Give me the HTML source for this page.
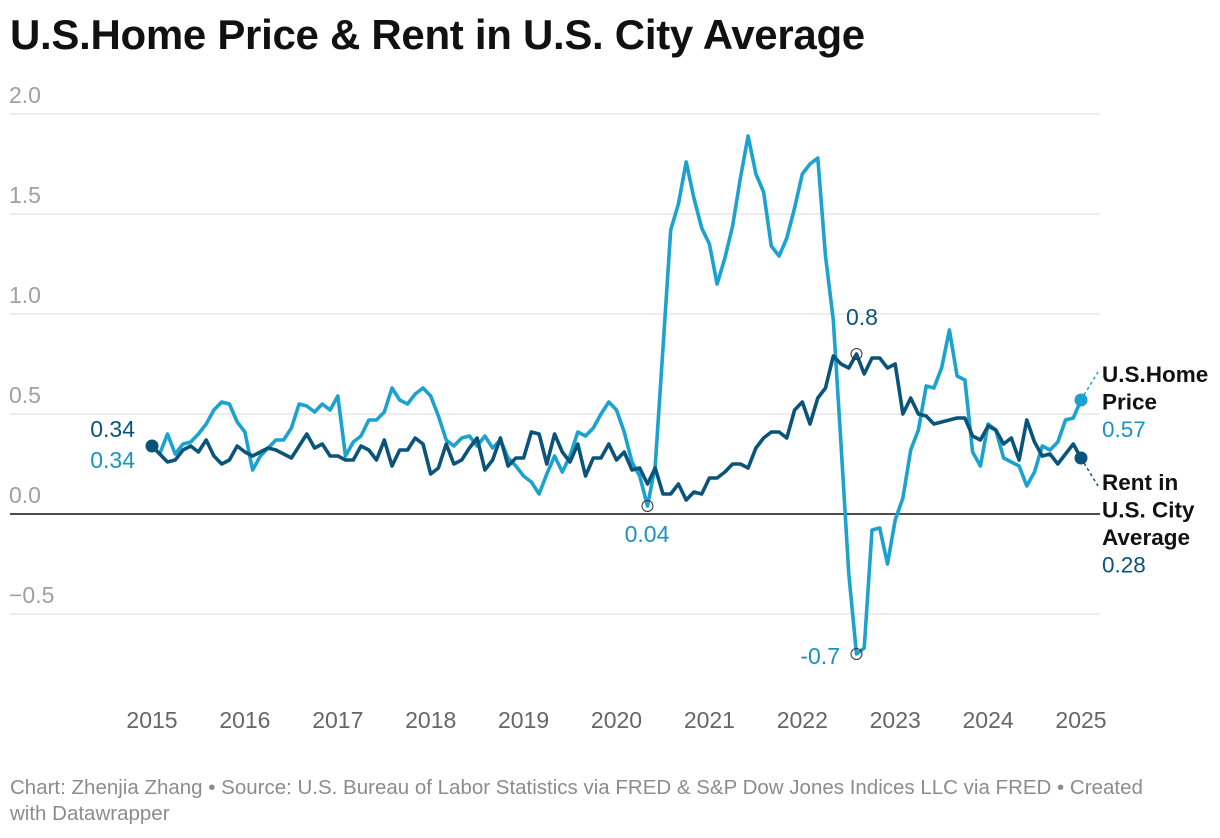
<!DOCTYPE html>
<html><head><meta charset="utf-8"><style>
body{margin:0;background:#fff;font-family:"Liberation Sans",sans-serif;}
#wrap{position:relative;width:1220px;height:838px;overflow:hidden}
h1{position:absolute;left:10px;top:11px;margin:0;font-size:42px;font-weight:bold;color:#111;letter-spacing:-0.3px}
.foot{position:absolute;left:10px;top:775px;font-size:20.5px;color:#8c8c8c;line-height:26px;width:1160px}
svg{position:absolute;left:0;top:0}
</style></head><body>
<div id="wrap">
<h1>U.S.Home Price &amp; Rent in U.S. City Average</h1>
<svg id="chart" width="1220" height="838"></svg>
<div class="foot">Chart: Zhenjia Zhang • Source: U.S. Bureau of Labor Statistics via FRED &amp; S&amp;P Dow Jones Indices LLC via FRED • Created with Datawrapper</div>
</div>
<script>
const yTicks=[2.0,1.5,1.0,0.5,0.0,-0.5];
const yTickLabels=["2.0","1.5","1.0","0.5","0.0","\u22120.5"];
const xYears=[2015,2016,2017,2018,2019,2020,2021,2022,2023,2024,2025];
const homePrice=[
0.34,0.30,0.40,0.30,0.35,0.36,0.40,0.45,0.52,0.56,0.55,0.46,
0.41,0.22,0.29,0.33,0.37,0.37,0.43,0.55,0.54,0.51,0.55,0.52,
0.59,0.29,0.36,0.39,0.47,0.47,0.51,0.63,0.57,0.55,0.60,0.63,
0.59,0.49,0.37,0.34,0.38,0.39,0.34,0.39,0.33,0.37,0.28,0.24,
0.19,0.16,0.10,0.20,0.29,0.21,0.29,0.41,0.39,0.43,0.50,0.56,
0.52,0.41,0.26,0.19,0.04,0.24,0.83,1.42,1.55,1.76,1.58,1.43,
1.35,1.15,1.28,1.44,1.68,1.89,1.70,1.61,1.34,1.29,1.38,1.53,
1.70,1.75,1.78,1.29,0.97,0.35,-0.30,-0.70,-0.67,-0.08,-0.07,-0.25,
-0.03,0.08,0.32,0.42,0.64,0.63,0.73,0.92,0.69,0.67,0.31,0.24,
0.45,0.42,0.28,0.26,0.24,0.14,0.21,0.34,0.32,0.36,0.47,0.48,
0.57];
const rent=[
0.34,0.30,0.26,0.27,0.32,0.34,0.31,0.37,0.29,0.25,0.27,0.34,
0.31,0.29,0.31,0.33,0.32,0.30,0.28,0.34,0.40,0.33,0.35,0.29,
0.29,0.27,0.27,0.34,0.32,0.27,0.37,0.24,0.32,0.32,0.38,0.35,
0.20,0.23,0.35,0.25,0.27,0.33,0.38,0.22,0.27,0.38,0.24,0.28,
0.28,0.41,0.40,0.25,0.40,0.31,0.26,0.35,0.19,0.28,0.28,0.35,
0.27,0.31,0.22,0.23,0.15,0.23,0.10,0.10,0.15,0.07,0.11,0.10,
0.18,0.18,0.21,0.25,0.25,0.23,0.33,0.38,0.41,0.41,0.38,0.52,
0.56,0.45,0.58,0.63,0.79,0.75,0.73,0.80,0.70,0.78,0.78,0.73,
0.75,0.50,0.58,0.50,0.49,0.45,0.46,0.47,0.48,0.48,0.39,0.37,
0.44,0.42,0.35,0.38,0.27,0.47,0.36,0.29,0.30,0.25,0.30,0.35,
0.28];
const NS="http://www.w3.org/2000/svg";
const svg=document.getElementById('chart');
const X0=152,X1=1081,Y0=514,PY=200;
function xs(i){return X0+(X1-X0)*i/120;}
function xy(y){return X0+(X1-X0)*(y-2015)/10;}
function ys(v){return Y0-v*PY;}
function mk(t,a,txt){const e=document.createElementNS(NS,t);for(const k in a)e.setAttribute(k,a[k]);if(txt!=null)e.textContent=txt;svg.appendChild(e);return e;}
yTicks.forEach((v,i)=>{
 if(v!==0){const g=mk('line',{x1:10,x2:1100,y1:ys(v),y2:ys(v),stroke:'#e2e2e2','stroke-width':1.3});
 
 }
 const t=mk('text',{x:9,y:ys(v)-11,'font-size':23,fill:'#a0a0a0','font-family':'Liberation Sans'},yTickLabels[i]);
 
 
});
const z=mk('line',{x1:10,x2:1100,y1:ys(0),y2:ys(0),stroke:'#111','stroke-width':1.6});


xYears.forEach(y=>{
 const t=mk('text',{x:xy(y),y:728,'font-size':23,fill:'#666','text-anchor':'middle','font-family':'Liberation Sans'},String(y));
 
 
});
function line(data,color,name){
 const p=mk('path',{d:data.map((v,i)=>(i?'L':'M')+xs(i).toFixed(1)+' '+ys(v).toFixed(1)).join(''),fill:'none',stroke:color,'stroke-width':3.6,'stroke-linejoin':'round'});
 
 
}
const LC='#1ba2cf',DC='#0b5479';
line(homePrice,LC,'home-price-line');
line(rent,DC,'rent-line');
const n=homePrice.length-1;
const d1=mk('line',{x1:xs(n),y1:ys(homePrice[n]),x2:1098,y2:ys(homePrice[n])-28,stroke:LC,'stroke-width':1.5,'stroke-dasharray':'3,3'});


const d2=mk('line',{x1:xs(n),y1:ys(rent[n]),x2:1098,y2:ys(rent[n])+28,stroke:DC,'stroke-width':1.5,'stroke-dasharray':'3,3'});


const e1=mk('circle',{cx:xs(n),cy:ys(homePrice[n]),r:6.5,fill:LC});


const e2=mk('circle',{cx:xs(n),cy:ys(rent[n]),r:6.5,fill:DC});


const s1=mk('circle',{cx:xs(0),cy:ys(rent[0]),r:6.5,fill:DC});


function ann(i,data,color,label,lx,ly,anchor){
 const c=mk('circle',{cx:xs(i),cy:ys(data[i]),r:5.5,fill:'none',stroke:'#333','stroke-width':1});
 
 
 const t=mk('text',{x:lx,y:ly,'font-size':23,fill:color,'text-anchor':anchor,'font-family':'Liberation Sans'},label);
 
 
}
ann(64,homePrice,'#1a93be','0.04',647,542,'middle');
ann(91,homePrice,'#1a93be','-0.7',840,664,'end');
ann(91,rent,DC,'0.8',862,325,'middle');
[['0.34',DC,437],['0.34','#1a93be',468]].forEach(a=>{
 const t=mk('text',{x:135,y:a[2],'font-size':23,fill:a[1],'text-anchor':'end','font-family':'Liberation Sans'},a[0]);
 
 
});
function rl(lines,valColor,y0,name){
 lines.forEach((s,k)=>{
  const last=k===lines.length-1;
  const t=mk('text',{x:1102,y:y0+k*27.5,'font-size':22.5,fill:last?valColor:'#111','font-weight':last?'normal':'bold','font-family':'Liberation Sans'},s);
  
  
 });
}
rl(['U.S.Home','Price','0.57'],'#1a93be',382,'home-price-legend');
rl(['Rent in','U.S. City','Average','0.28'],DC,490,'rent-legend');
</script>
</body></html>
